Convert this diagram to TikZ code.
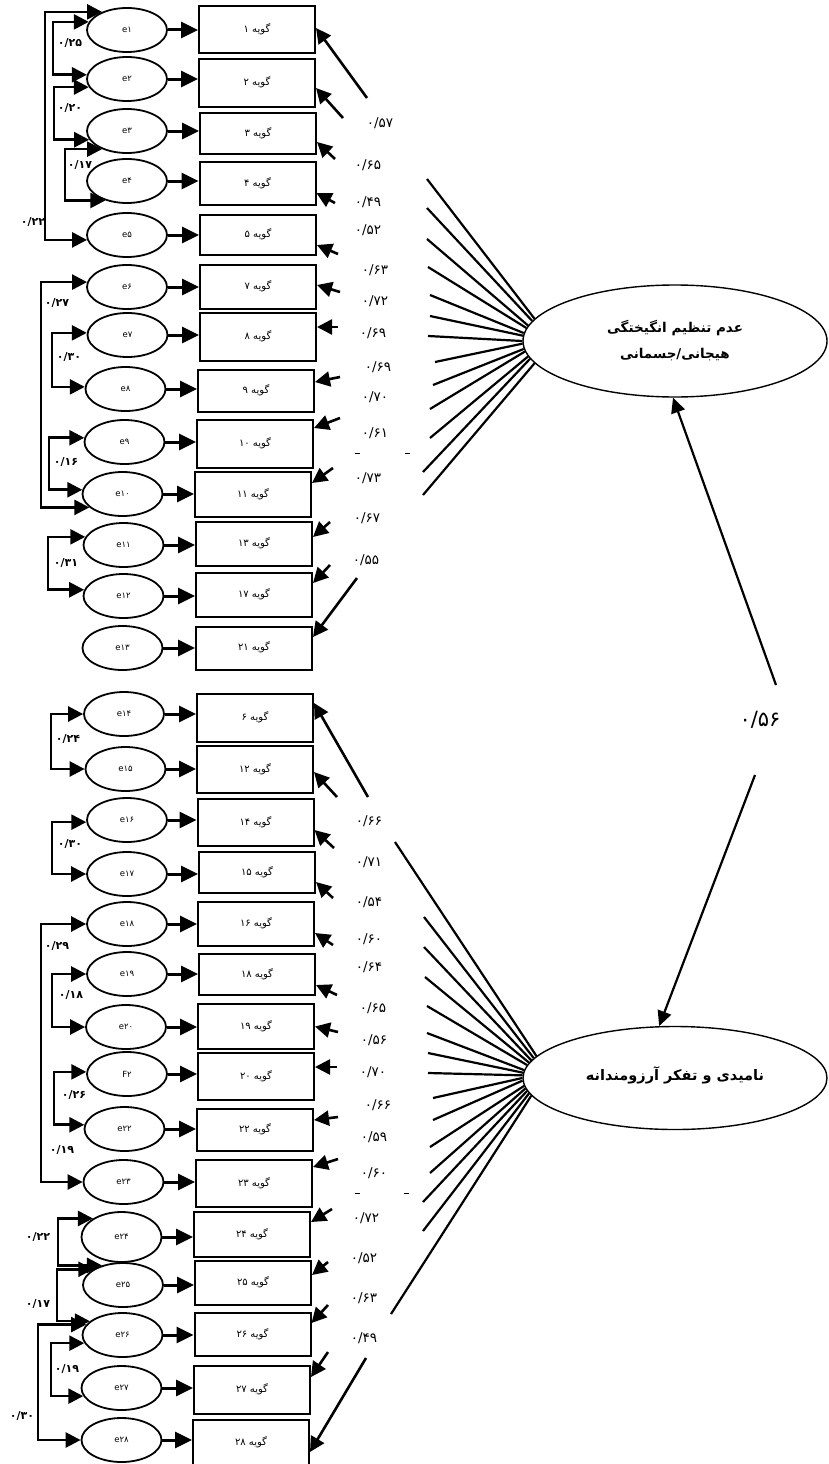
\documentclass[tikz,border=0pt]{standalone}
\usepackage{fontspec}
\usetikzlibrary{shapes.geometric,arrows.meta}
\newfontfamily\fa[Script=Arabic]{DejaVu Sans}
\TeXXeTstate=1
\newcommand{\gw}[1]{\raisebox{3pt}{\beginR گویه \beginL#1\endL\endR}}
\tikzset{
 errnode/.style={ellipse, draw, line width=1.8pt, minimum width=80pt, minimum height=44pt, inner sep=0pt, font=\fa\fontsize{8.5}{9}\selectfont},
 itemnode/.style={rectangle, draw, line width=2pt, minimum width=116pt, minimum height=#1, inner sep=0pt, font=\fa\fontsize{10}{11}\selectfont},
 latnode/.style={ellipse, draw, line width=1.4pt, minimum width=304pt, minimum height=#1, inner sep=0pt, align=center},
 arr/.style={line width=3pt, -{Triangle[length=17pt,width=16pt]}},
 cov/.style={line width=2.6pt, {Triangle[length=15pt,width=15pt]}-{Triangle[length=15pt,width=15pt]}},
 stub/.style={line width=2.6pt, -{Triangle[length=15pt,width=15pt]}},
 midarr/.style={line width=2.2pt, -{Triangle[length=15pt,width=14pt]}},
 fan/.style={line width=2.2pt},
 ld/.style={font=\fa\fontsize{13.5}{14}\selectfont, inner sep=0pt},
 cl/.style={font=\fa\bfseries\fontsize{11}{12}\selectfont, inner sep=0pt},
 dashmark/.style={line width=0.8pt},
}
\begin{document}
\begin{tikzpicture}[x=1pt,y=-1pt]
\fill[white] (0,0) rectangle (829,1464);
\useasboundingbox (0,0) rectangle (829,1464);

% ---------- top group ----------
\node[errnode] (e1) at (127,30) {e۱};
\node[errnode] (e2) at (127,79) {e۲};
\node[errnode] (e3) at (127,131) {e۳};
\node[errnode] (e4) at (127,181) {e۴};
\node[errnode] (e5) at (127,235) {e۵};
\node[errnode] (e6) at (127,287) {e۶};
\node[errnode] (e7) at (127.5,335) {e۷};
\node[errnode] (e8) at (125.5,389) {e۸};
\node[errnode] (e9) at (124.5,442) {e۹};
\node[errnode] (e10) at (122.5,494) {e۱۰};
\node[errnode] (e11) at (123.5,545) {e۱۱};
\node[errnode] (e12) at (123.5,596) {e۱۲};
\node[errnode] (e13) at (122.5,648) {e۱۳};

\node[itemnode=47pt] (b1) at (257,29.5) {\gw{۱}};
\node[itemnode=48pt] (b2) at (257,83) {\gw{۲}};
\node[itemnode=41pt] (b3) at (258,133.5) {\gw{۳}};
\node[itemnode=43pt] (b4) at (257.5,183.5) {\gw{۴}};
\node[itemnode=40pt] (b5) at (258,235) {\gw{۵}};
\node[itemnode=44pt] (b7) at (258,287) {\gw{۷}};
\node[itemnode=48pt] (b8) at (258,337) {\gw{۸}};
\node[itemnode=42pt] (b9) at (256,391) {\gw{۹}};
\node[itemnode=48pt] (b10) at (255,444) {\gw{۱۰}};
\node[itemnode=45pt] (b11) at (253,494.5) {\gw{۱۱}};
\node[itemnode=44pt] (b13) at (254,544) {\gw{۱۳}};
\node[itemnode=44pt] (b17) at (254,595) {\gw{۱۷}};
\node[itemnode=43pt] (b21) at (254,648) {\gw{۲۱}};

% ---------- bottom group ----------
\node[errnode] (e14) at (124,714) {e۱۴};
\node[errnode] (e15) at (125.5,769) {e۱۵};
\node[errnode] (e16) at (127,820) {e۱۶};
\node[errnode] (e17) at (127,874) {e۱۷};
\node[errnode] (e18) at (127,924) {e۱۸};
\node[errnode] (e19) at (127,974) {e۱۹};
\node[errnode] (e20) at (126,1027) {e۲۰};
\node[errnode] (F2) at (127,1074) {F۲};
\node[errnode] (e22) at (124.5,1129) {e۲۲};
\node[errnode] (e23) at (123.5,1182) {e۲۳};
\node[errnode, minimum height=50pt] (e24) at (121.5,1237) {e۲۴};
\node[errnode] (e25) at (123,1285) {e۲۵};
\node[errnode] (e26) at (122.5,1335) {e۲۶};
\node[errnode] (e27) at (121.5,1388) {e۲۷};
\node[errnode] (e28) at (121.5,1440) {e۲۸};

\node[itemnode=48pt] (b6) at (255,718) {\gw{۶}};
\node[itemnode=47pt] (b12) at (255,769.5) {\gw{۱۲}};
\node[itemnode=47pt] (b14) at (255.5,822.5) {\gw{۱۴}};
\node[itemnode=41pt] (b15) at (257,872.5) {\gw{۱۵}};
\node[itemnode=44pt] (b16) at (256,924) {\gw{۱۶}};
\node[itemnode=41pt] (b18) at (257,974.5) {\gw{۱۸}};
\node[itemnode=45pt] (b19) at (256,1026.5) {\gw{۱۹}};
\node[itemnode=47pt] (b20) at (256,1076.5) {\gw{۲۰}};
\node[itemnode=42pt] (b22) at (255,1130) {\gw{۲۲}};
\node[itemnode=47pt] (b23) at (254,1183.5) {\gw{۲۳}};
\node[itemnode=45pt] (b24) at (252,1234.5) {\gw{۲۴}};
\node[itemnode=44pt] (b25) at (253,1283) {\gw{۲۵}};
\node[itemnode=43pt] (b26) at (252.5,1334.5) {\gw{۲۶}};
\node[itemnode=48pt] (b27) at (252,1390) {\gw{۲۷}};
\node[itemnode=46pt] (b28) at (251,1443) {\gw{۲۸}};

% ---------- latent variables ----------
\node[latnode=112pt, font=\fa\bfseries\fontsize{13.5}{26}\selectfont] (L1) at (675,341) {\beginR عدم تنظیم انگیختگی\endR\\\beginR هیجانی/جسمانی\endR};
\node[latnode=103pt, font=\fa\bfseries\fontsize{14.5}{16}\selectfont] (L2) at (675,1078) {\raisebox{8pt}{\beginR نامیدی و تفکر آرزومندانه\endR}};

% ---------- error arrows ----------
\foreach \e/\b in {e1/b1,e2/b2,e3/b3,e4/b4,e5/b5,e6/b7,e7/b8,e8/b9,e9/b10,e10/b11,e11/b13,e12/b17,e13/b21,
                   e14/b6,e15/b12,e16/b14,e17/b15,e18/b16,e19/b18,e20/b19,F2/b20,e22/b22,e23/b23,e24/b24,e25/b25,e26/b26,e27/b27,e28/b28}
  \draw[arr] (\e.east) -- (\e.east -| \b.west);

% ---------- covariances ----------
\coordinate (k1) at (53,0);
\coordinate (k2) at (54,0);
\coordinate (k3) at (65,0);
\coordinate (k4) at (45,0);
\coordinate (k5) at (41,0);
\coordinate (k6) at (52,0);
\coordinate (k7) at (49,0);
\coordinate (k8) at (48,0);
\coordinate (k9) at (51,0);
\coordinate (k10) at (52,0);
\coordinate (k11) at (41,0);
\coordinate (k12) at (52,0);
\coordinate (k13) at (54,0);
\coordinate (k14) at (58,0);
\coordinate (k15) at (57,0);
\coordinate (k16) at (51,0);
\coordinate (k17) at (38,0);
\foreach \a/\b/\k in {e1.168/e2.174/k1, e2.192/e3.193/k2, e3.216/e4.222/k3, e1.144/e5.187/k4,
                      e6.173/e10.202/k5, e7.177/e8.177/k6, e9.174/e10.174/k7, e11.168/e12.171/k8,
                      e14.180/e15.180/k9, e16.183/e17.180/k10, e18.180/e23.180/k11, e19.180/e20.180/k12,
                      F2.177/e22.174/k13, e24.147/e25.137/k14, e25.152/e26.157/k15, e26.192/e27.192/k16,
                      e26.164/e28.180/k17}
  \draw[cov] (\a) -- (\a -| \k) -- (\b -| \k) -- (\b);

\node[cl] (c1) at (70,43) {۰/۲۵};
\node[cl] (c2) at (70,108) {۰/۲۰};
\node[cl] (c3) at (80,165) {۰/۱۷};
\node[cl] (c4) at (33,222) {۰/۲۲};
\node[cl] (c5) at (57,303) {۰/۲۷};
\node[cl] (c6) at (69,357) {۰/۳۰};
\node[cl] (c7) at (66,462) {۰/۱۶};
\node[cl] (c8) at (66,563) {۰/۳۱};
\node[cl] (c9) at (68,739) {۰/۲۴};
\node[cl] (c10) at (70,844) {۰/۳۰};
\node[cl] (c11) at (57,946) {۰/۲۹};
\node[cl] (c12) at (71,995) {۰/۱۸};
\node[cl] (c13) at (74,1095) {۰/۲۶};
\node[cl] (c14) at (62,1150) {۰/۱۹};
\node[cl] (c15) at (38,1237) {۰/۲۲};
\node[cl] (c16) at (38,1304) {۰/۱۷};
\node[cl] (c17) at (67,1369) {۰/۱۹};
\node[cl] (c18) at (22,1416) {۰/۳۰};

% ---------- loading stubs (top) ----------
\coordinate (s1) at (367,98);   \draw[stub] (s1) -- ([yshift=1.5pt]b1.east);
\coordinate (s2) at (343,118);  \draw[stub] (s2) -- ([yshift=-5pt]b2.east);
\coordinate (s3) at (335,159);  \draw[stub] (s3) -- ([yshift=-8.5pt]b3.east);
\coordinate (s4) at (335,203);  \draw[stub] (s4) -- ([yshift=-9.5pt]b4.east);
\coordinate (s5) at (338,254);  \draw[stub] (s5) -- ([yshift=-10pt]b5.east);
\coordinate (s6) at (340,292);  \draw[stub] (s6) -- ([yshift=2pt]b7.east);
\coordinate (s7) at (338,327);  \draw[stub] (s7) -- ([yshift=10pt]b8.east);
\coordinate (s8) at (340,377);  \draw[stub] (s8) -- ([yshift=9pt]b9.east);
\coordinate (s9) at (340,418);  \draw[stub] (s9) -- ([yshift=16pt]b10.east);
\coordinate (s10) at (333,468); \draw[stub] (s10) -- ([yshift=11.5pt]b11.east);
\coordinate (s11) at (330,522); \draw[stub] (s11) -- ([yshift=7pt]b13.east);
\coordinate (s12) at (330,565); \draw[stub] (s12) -- ([yshift=12pt]b17.east);
\coordinate (s13) at (357,578); \draw[stub] (s13) -- ([yshift=11pt]b21.east);

% ---------- loading stubs (bottom) ----------
\coordinate (t1) at (368,797);   \draw[stub] (t1) -- ([yshift=15pt]b6.east);
\coordinate (t2) at (337,797);   \draw[stub] (t2) -- ([yshift=-2.5pt]b12.east);
\coordinate (t3) at (334,848);   \draw[stub] (t3) -- ([yshift=-7.5pt]b14.east);
\coordinate (t4) at (333,898);   \draw[stub] (t4) -- ([yshift=-9.5pt]b15.east);
\coordinate (t5) at (333,945);   \draw[stub] (t5) -- ([yshift=-9pt]b16.east);
\coordinate (t6) at (337,995);   \draw[stub] (t6) -- ([yshift=-10.5pt]b18.east);
\coordinate (t7) at (338,1032);  \draw[stub] (t7) -- ([yshift=0pt]b19.east);
\coordinate (t8) at (337,1067);  \draw[stub] (t8) -- ([yshift=9.5pt]b20.east);
\coordinate (t9) at (338,1117);  \draw[stub] (t9) -- ([yshift=10pt]b22.east);
\coordinate (t10) at (338,1159); \draw[stub] (t10) -- ([yshift=16.5pt]b23.east);
\coordinate (t11) at (332,1209); \draw[stub] (t11) -- ([yshift=12.5pt]b24.east);
\coordinate (t12) at (328,1262); \draw[stub] (t12) -- ([yshift=8pt]b25.east);
\coordinate (t13) at (328,1305); \draw[stub] (t13) -- ([yshift=11.5pt]b26.east);
\coordinate (t14) at (328,1352); \draw[stub] (t14) -- ([yshift=13pt]b27.east);
\coordinate (t15) at (366,1358); \draw[stub] (t15) -- ([yshift=-9pt]b28.east);

% ---------- fan lines ----------
\coordinate (f1) at (427,179);
\coordinate (f2) at (427,208);
\coordinate (f3) at (427,239);
\coordinate (f4) at (428,267);
\coordinate (f5) at (430,295);
\coordinate (f6) at (430,316);
\coordinate (f7) at (428,336);
\coordinate (f8) at (435,362);
\coordinate (f9) at (433,385);
\coordinate (f10) at (430,409);
\coordinate (f11) at (430,438);
\coordinate (f12) at (423,472);
\coordinate (f13) at (423,495);
\foreach \a/\f in {171/f1,172.5/f2,174/f3,175.5/f4,177/f5,178.5/f6,180/f7,181.5/f8,183/f9,184.5/f10,186/f11,187.5/f12,189/f13}
  \draw[fan] (L1.\a) -- (\f);

\coordinate (g1) at (395,842);
\coordinate (g2) at (424,917);
\coordinate (g3) at (424,947);
\coordinate (g4) at (425,977);
\coordinate (g5) at (427,1006);
\coordinate (g6) at (427,1033);
\coordinate (g7) at (428,1053);
\coordinate (g8) at (428,1073);
\coordinate (g9) at (433,1098);
\coordinate (g10) at (433,1120);
\coordinate (g11) at (430,1147);
\coordinate (g12) at (430,1173);
\coordinate (g13) at (423,1202);
\coordinate (g14) at (423,1231);
\coordinate (g15) at (391,1314);
\foreach \a/\f in {171/g1,172.2/g2,173.4/g3,174.6/g4,175.8/g5,177/g6,178.2/g7,179.4/g8,180.6/g9,181.8/g10,183/g11,184.2/g12,185.4/g13,186.6/g14,187.8/g15}
  \draw[fan] (L2.\a) -- (\f);

% ---------- loading labels ----------
\node[ld] (n1) at (380,123) {۰/۵۷};
\node[ld] (n2) at (368,165) {۰/۶۵};
\node[ld] (n3) at (368,202) {۰/۴۹};
\node[ld] (n4) at (368,230) {۰/۵۲};
\node[ld] (n5) at (375,270) {۰/۶۳};
\node[ld] (n6) at (375,301) {۰/۷۲};
\node[ld] (n7) at (373,333) {۰/۶۹};
\node[ld] (n8) at (378,367) {۰/۶۹};
\node[ld] (n9) at (375,397) {۰/۷۰};
\node[ld] (n10) at (375,433) {۰/۶۱};
\node[ld] (n11) at (368,478) {۰/۷۳};
\node[ld] (n12) at (367,518) {۰/۶۷};
\node[ld] (n13) at (366,560) {۰/۵۵};

\node[ld] (m1) at (369,821) {۰/۶۶};
\node[ld] (m2) at (369,862) {۰/۷۱};
\node[ld] (m3) at (369,902) {۰/۵۴};
\node[ld] (m4) at (369,939) {۰/۶۰};
\node[ld] (m5) at (369,967) {۰/۶۴};
\node[ld] (m6) at (373,1008) {۰/۶۵};
\node[ld] (m7) at (374,1040) {۰/۵۶};
\node[ld] (m8) at (373,1072) {۰/۷۰};
\node[ld] (m9) at (378,1105) {۰/۶۶};
\node[ld] (m10) at (374,1137) {۰/۵۹};
\node[ld] (m11) at (374,1173) {۰/۶۰};
\node[ld] (m12) at (366,1218) {۰/۷۲};
\node[ld] (m13) at (364,1258) {۰/۵۲};
\node[ld] (m14) at (364,1298) {۰/۶۳};
\node[ld] (m15) at (364,1338) {۰/۴۹};

\draw[dashmark] (355,453) -- (360,453);
\draw[dashmark] (405,453) -- (410,453);
\draw[dashmark] (355,1193) -- (360,1193);
\draw[dashmark] (404,1193) -- (409,1193);

% ---------- correlation between latents ----------
\coordinate (u1) at (776,685);
\coordinate (u2) at (755,775);
\draw[midarr] (u1) -- (L1.268);
\draw[midarr] (u2) -- (L2.107);
\node[font=\fa\fontsize{21}{22}\selectfont, inner sep=0pt] (r) at (760,720) {۰/۵۶};
\end{tikzpicture}
\end{document}
